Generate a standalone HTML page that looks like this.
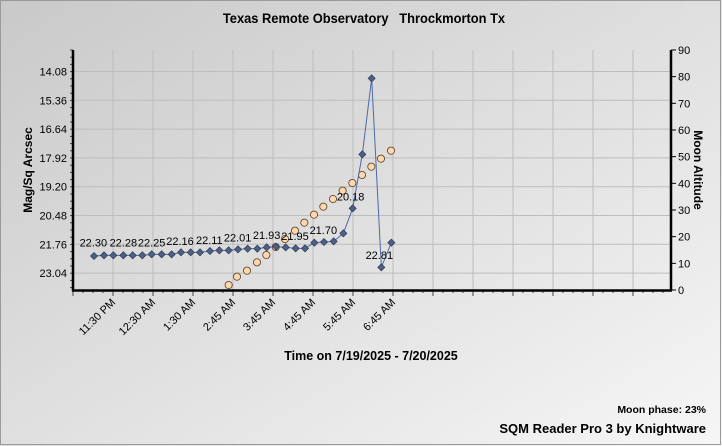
<!DOCTYPE html>
<html><head><meta charset="utf-8"><style>
body{margin:0;width:722px;height:446px;overflow:hidden}
svg{display:block}
text{font-family:"Liberation Sans",Arial,sans-serif;white-space:pre}
</style></head><body>
<svg id="s" width="722" height="446" xmlns="http://www.w3.org/2000/svg">
<defs><linearGradient id="bg" x1="0" y1="0" x2="1" y2="1">
<stop offset="0" stop-color="#c9c9c9"/><stop offset="1" stop-color="#f6f6f6"/></linearGradient></defs>
<rect x="0" y="0" width="722" height="446" fill="url(#bg)"/>
<rect x="0.5" y="0.5" width="720" height="444" fill="none" stroke="#9a9a9a"/>
<text x="364" y="23" text-anchor="middle" font-size="14" font-weight="bold" transform="translate(364 0) scale(0.92 1) translate(-364 0)">Texas Remote Observatory   Throckmorton Tx</text>
<g id="g"></g>
<text x="371" y="360" text-anchor="middle" font-size="12.5" font-weight="bold">Time on 7/19/2025 - 7/20/2025</text>
<text x="706" y="413" text-anchor="end" font-size="10.5" font-weight="bold">Moon phase: 23%</text>
<text x="706" y="433" text-anchor="end" font-size="13" font-weight="bold">SQM Reader Pro 3 by Knightware</text>
<text transform="translate(32 170) rotate(-90)" text-anchor="middle" font-size="12" font-weight="bold">Mag/Sq Arcsec</text>
<text transform="translate(694 170) rotate(90)" text-anchor="middle" font-size="12" font-weight="bold">Moon Altitude</text>
</svg>
<script>
var g=document.getElementById('g'),h='';
for(var x=113;x<=633;x+=40)h+='<line x1="'+x+'" y1="50" x2="'+x+'" y2="290" stroke="#bdbdbd"/>';
var L=['14.08','15.36','16.64','17.92','19.20','20.48','21.76','23.04'];
for(var i=0;i<8;i++){var y=71.5+i*28.8;h+='<line x1="73" y1="'+y+'" x2="671" y2="'+y+'" stroke="#bdbdbd"/>';
h+='<text x="67" y="'+(y+4)+'" text-anchor="end" font-size="11">'+L[i]+'</text>';}
for(var a=0;a<=90;a+=10){var y=290-a*2.667;h+='<line x1="671" y1="'+y+'" x2="676" y2="'+y+'" stroke="#000"/><text x="678" y="'+(y+4)+'" font-size="11">'+a+'</text>';}
for(var y=50;y<290;y+=7.2){h+='<line x1="70" y1="'+y+'" x2="73" y2="'+y+'" stroke="#444"/>';}
for(var x=73;x<671;x+=10){h+='<line x1="'+x+'" y1="290" x2="'+x+'" y2="'+(x%40==33?296:293)+'" stroke="#444"/>';}
h+='<line x1="73" y1="50" x2="73" y2="291" stroke="#000" stroke-width="2.5"/>';
h+='<line x1="671" y1="50" x2="671" y2="291" stroke="#000" stroke-width="2.5"/>';
h+='<line x1="72" y1="290.5" x2="672" y2="290.5" stroke="#000" stroke-width="2.5"/>';
var T=['11:30 PM','12:30 AM','1:30 AM','2:45 AM','3:45 AM','4:45 AM','5:45 AM','6:45 AM'];
for(var i=0;i<8;i++){var x=116+i*40;h+='<text transform="translate('+x+' 303) rotate(-45)" text-anchor="end" font-size="11">'+T[i]+'</text>';}
var mx=[476,501,531,561,589,617,645,675,703,732,760,789,818,847,876,904,933,963],my=[735,710,692,667,645,621,597,572,548,524,500,477,452,429,405,380,356,332];
for(var i=0;i<mx.length;i++)h+='<circle cx="'+(70+mx[i]/3)+'" cy="'+(40+my[i]/3)+'" r="3.6" fill="#fcd9b0" stroke="#6b4a2a" stroke-width="0.9"/>';
var sx=[72,102,130,160,188,217,245,275,305,333,362,390,420,448,476,504,533,562,590,618,647,677,705,733,762,791,820,848,877,905,934,964],
sy=[648,646,646,646,646,646,643,643,643,637,637,637,633,631,631,628,626,626,622,620,622,625,625,608,606,604,580,505,343,115,682,608];
var p='';for(var i=0;i<sx.length;i++)p+=(i?'L':'M')+(70+sx[i]/3)+' '+(40+sy[i]/3);
h+='<path d="'+p+'" fill="none" stroke="#4a6aa8" stroke-width="1"/>';
for(var i=0;i<sx.length;i++){var x=70+sx[i]/3,y=40+sy[i]/3;h+='<path d="M'+x+' '+(y-3.6)+'L'+(x+3.6)+' '+y+'L'+x+' '+(y+3.6)+'L'+(x-3.6)+' '+y+'Z" fill="#4d5f82" stroke="#2a3550" stroke-width="0.6"/>';}
var lb=[[70,'22.30',607],[160,'22.28',607],[245,'22.25',607],[330,'22.16',603],[418,'22.11',600],[503,'22.01',592],[590,'21.93',585],[675,'21.95',588],[760,'21.70',570],[842,'20.18',470],[928,'22.81',645]];
for(var i=0;i<lb.length;i++)h+='<text x="'+(70+lb[i][0]/3)+'" y="'+(40+lb[i][2]/3+4)+'" text-anchor="middle" font-size="11">'+lb[i][1]+'</text>';
g.innerHTML=h;
</script>
</body></html>
